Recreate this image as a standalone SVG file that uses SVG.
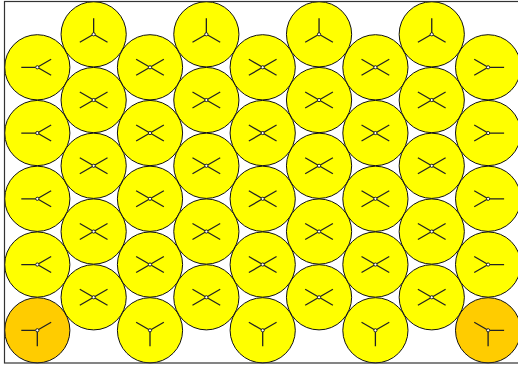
<svg xmlns="http://www.w3.org/2000/svg" xmlns:xlink="http://www.w3.org/1999/xlink" width="518" height="366" viewBox="0 0 518 366">
<style>
.a{fill:#ffff00;stroke:#111;stroke-width:1}
.c{fill:#ffcc00;stroke:#111;stroke-width:1}
.g{fill:none;stroke:#222;stroke-width:1.3}
.d{fill:#fff;stroke:#222;stroke-width:1}
</style>
<defs>
<path id="X" class="g" d="M-13.86,-8L13.86,8M13.86,-8L-13.86,8"/>
<path id="T" class="g" d="M0,0V-16M0,0L-13.86,8M0,0L13.86,8"/>
<path id="B" class="g" d="M0,0V16M0,0L-13.86,-8M0,0L13.86,-8"/>
<path id="L" class="g" d="M0,0H-16M0,0L13.86,-8M0,0L13.86,8"/>
<path id="R" class="g" d="M0,0H16M0,0L-13.86,-8M0,0L-13.86,8"/>
<path id="CL" class="g" d="M0,0H-16M0,0L13.86,-8M0,0V16"/>
<path id="CR" class="g" d="M0,0H16M0,0L-13.86,-8M0,0V16"/>
<g id="yA"><circle class="a" r="32.6"/></g>
<g id="oA"><circle class="c" r="32.6"/></g>
<circle id="D" class="d" r="1.6"/>
</defs>
<g id="connectors"></g>
<g id="n0_0" transform="translate(37.3,67.3)"><use href="#yA"/><use href="#L"/><use href="#D"/></g>
<g id="n0_1" transform="translate(37.3,133.05)"><use href="#yA"/><use href="#L"/><use href="#D"/></g>
<g id="n0_2" transform="translate(37.3,198.8)"><use href="#yA"/><use href="#L"/><use href="#D"/></g>
<g id="n0_3" transform="translate(37.3,264.55)"><use href="#yA"/><use href="#L"/><use href="#D"/></g>
<g id="n0_4" transform="translate(37.3,330.3)"><use href="#oA"/><use href="#CL"/><use href="#D"/></g>
<g id="n1_0" transform="translate(93.65,34.3)"><use href="#yA"/><use href="#T"/><use href="#D"/></g>
<g id="n1_1" transform="translate(93.65,100.05)"><use href="#yA"/><use href="#X"/><use href="#D"/></g>
<g id="n1_2" transform="translate(93.65,165.8)"><use href="#yA"/><use href="#X"/><use href="#D"/></g>
<g id="n1_3" transform="translate(93.65,231.55)"><use href="#yA"/><use href="#X"/><use href="#D"/></g>
<g id="n1_4" transform="translate(93.65,297.3)"><use href="#yA"/><use href="#X"/><use href="#D"/></g>
<g id="n2_0" transform="translate(150,67.3)"><use href="#yA"/><use href="#X"/><use href="#D"/></g>
<g id="n2_1" transform="translate(150,133.05)"><use href="#yA"/><use href="#X"/><use href="#D"/></g>
<g id="n2_2" transform="translate(150,198.8)"><use href="#yA"/><use href="#X"/><use href="#D"/></g>
<g id="n2_3" transform="translate(150,264.55)"><use href="#yA"/><use href="#X"/><use href="#D"/></g>
<g id="n2_4" transform="translate(150,330.3)"><use href="#yA"/><use href="#B"/><use href="#D"/></g>
<g id="n3_0" transform="translate(206.35,34.3)"><use href="#yA"/><use href="#T"/><use href="#D"/></g>
<g id="n3_1" transform="translate(206.35,100.05)"><use href="#yA"/><use href="#X"/><use href="#D"/></g>
<g id="n3_2" transform="translate(206.35,165.8)"><use href="#yA"/><use href="#X"/><use href="#D"/></g>
<g id="n3_3" transform="translate(206.35,231.55)"><use href="#yA"/><use href="#X"/><use href="#D"/></g>
<g id="n3_4" transform="translate(206.35,297.3)"><use href="#yA"/><use href="#X"/><use href="#D"/></g>
<g id="n4_0" transform="translate(262.7,67.3)"><use href="#yA"/><use href="#X"/><use href="#D"/></g>
<g id="n4_1" transform="translate(262.7,133.05)"><use href="#yA"/><use href="#X"/><use href="#D"/></g>
<g id="n4_2" transform="translate(262.7,198.8)"><use href="#yA"/><use href="#X"/><use href="#D"/></g>
<g id="n4_3" transform="translate(262.7,264.55)"><use href="#yA"/><use href="#X"/><use href="#D"/></g>
<g id="n4_4" transform="translate(262.7,330.3)"><use href="#yA"/><use href="#B"/><use href="#D"/></g>
<g id="n5_0" transform="translate(319.05,34.3)"><use href="#yA"/><use href="#T"/><use href="#D"/></g>
<g id="n5_1" transform="translate(319.05,100.05)"><use href="#yA"/><use href="#X"/><use href="#D"/></g>
<g id="n5_2" transform="translate(319.05,165.8)"><use href="#yA"/><use href="#X"/><use href="#D"/></g>
<g id="n5_3" transform="translate(319.05,231.55)"><use href="#yA"/><use href="#X"/><use href="#D"/></g>
<g id="n5_4" transform="translate(319.05,297.3)"><use href="#yA"/><use href="#X"/><use href="#D"/></g>
<g id="n6_0" transform="translate(375.4,67.3)"><use href="#yA"/><use href="#X"/><use href="#D"/></g>
<g id="n6_1" transform="translate(375.4,133.05)"><use href="#yA"/><use href="#X"/><use href="#D"/></g>
<g id="n6_2" transform="translate(375.4,198.8)"><use href="#yA"/><use href="#X"/><use href="#D"/></g>
<g id="n6_3" transform="translate(375.4,264.55)"><use href="#yA"/><use href="#X"/><use href="#D"/></g>
<g id="n6_4" transform="translate(375.4,330.3)"><use href="#yA"/><use href="#B"/><use href="#D"/></g>
<g id="n7_0" transform="translate(431.75,34.3)"><use href="#yA"/><use href="#T"/><use href="#D"/></g>
<g id="n7_1" transform="translate(431.75,100.05)"><use href="#yA"/><use href="#X"/><use href="#D"/></g>
<g id="n7_2" transform="translate(431.75,165.8)"><use href="#yA"/><use href="#X"/><use href="#D"/></g>
<g id="n7_3" transform="translate(431.75,231.55)"><use href="#yA"/><use href="#X"/><use href="#D"/></g>
<g id="n7_4" transform="translate(431.75,297.3)"><use href="#yA"/><use href="#X"/><use href="#D"/></g>
<g id="n8_0" transform="translate(488.1,67.3)"><use href="#yA"/><use href="#R"/><use href="#D"/></g>
<g id="n8_1" transform="translate(488.1,133.05)"><use href="#yA"/><use href="#R"/><use href="#D"/></g>
<g id="n8_2" transform="translate(488.1,198.8)"><use href="#yA"/><use href="#R"/><use href="#D"/></g>
<g id="n8_3" transform="translate(488.1,264.55)"><use href="#yA"/><use href="#R"/><use href="#D"/></g>
<g id="n8_4" transform="translate(488.1,330.3)"><use href="#oA"/><use href="#CR"/><use href="#D"/></g>
<rect id="frame" x="4.5" y="1.5" width="520" height="361.5" fill="none" stroke="#333" stroke-width="1.2"/>
</svg>
